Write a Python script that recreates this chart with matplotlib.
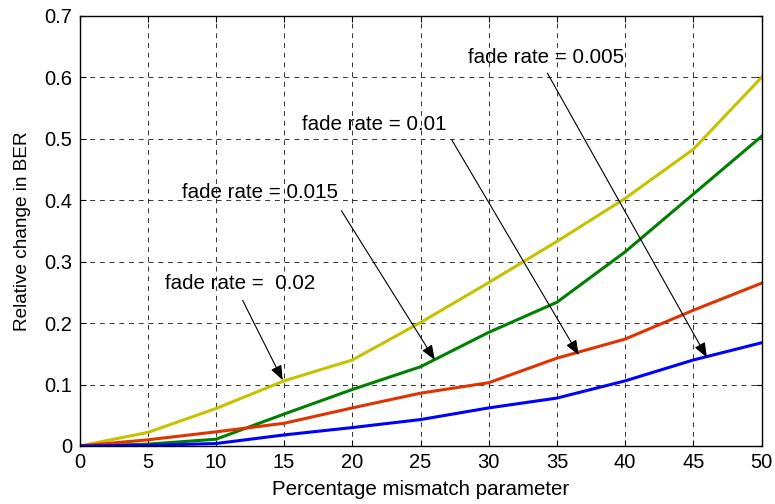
import matplotlib
matplotlib.use("Agg")
import matplotlib.pyplot as plt

x = [0, 5, 10, 15, 20, 25, 30, 35, 40, 45, 50]
ber_002 = [0, 0.022, 0.061, 0.106, 0.140, 0.201, 0.266, 0.333, 0.403, 0.483, 0.600]
ber_0015 = [0, 0.003, 0.011, 0.052, 0.092, 0.129, 0.185, 0.234, 0.316, 0.410, 0.504]
ber_001 = [0, 0.010, 0.023, 0.037, 0.062, 0.086, 0.103, 0.143, 0.174, 0.221, 0.265]
ber_0005 = [0, 0.001, 0.004, 0.018, 0.030, 0.043, 0.062, 0.078, 0.106, 0.140, 0.168]

labels = ["fade rate = 0.005", "fade rate = 0.01", "fade rate = 0.015", "fade rate =  0.02"]
label_xy = [(28.5, 0.633), (16.3, 0.523), (7.5, 0.412), (6.3, 0.265)]
arrow_start = [(34.3, 0.607), (27.3, 0.498), (19.2, 0.383), (11.96, 0.237)]
arrow_tip = [(46.0, 0.144), (36.6, 0.148), (26.05, 0.140), (14.9, 0.107)]

plt.rcParams['font.family'] = ['Liberation Sans', 'DejaVu Sans']

fig = plt.figure(figsize=(7.75, 5.04), dpi=100)
ax = fig.add_axes([0.1026, 0.1151, 0.88, 0.8532])

ax.plot(x, ber_002, color=(0.78, 0.76, 0.0), lw=2.2)
ax.plot(x, ber_0015, color=(0.0, 0.5, 0.0), lw=2.2)
ax.plot(x, ber_001, color=(0.88, 0.2, 0.0), lw=2.2)
ax.plot(x, ber_0005, color=(0.0, 0.0, 1.0), lw=2.2)

ax.set_xlim(0, 50)
ax.set_ylim(0, 0.7)
ax.set_xticks(range(0, 51, 5))
ax.set_yticks([0, 0.1, 0.2, 0.3, 0.4, 0.5, 0.6, 0.7])
ax.set_yticklabels(["0", "0.1", "0.2", "0.3", "0.4", "0.5", "0.6", "0.7"])
ax.grid(True, color='black', linestyle=(0, (5, 5)), linewidth=0.7, alpha=0.8)
ax.tick_params(direction='in', top=True, right=True, labelsize=14.5, length=4)
ax.tick_params(axis='x', pad=5)
ax.tick_params(axis='y', pad=5)
for s in ax.spines.values():
    s.set_linewidth(1.0)

ax.set_xlabel("Percentage mismatch parameter", fontsize=14.8, labelpad=6)
ax.set_ylabel("Relative change in BER", fontsize=13.7, labelpad=10)

for lab, (tx, ty), (sx, sy), (ex, ey) in zip(labels, label_xy, arrow_start, arrow_tip):
    ax.text(tx, ty, lab, fontsize=14.8, ha='left', va='center')
    ax.annotate("", xy=(ex, ey), xytext=(sx, sy),
                arrowprops=dict(arrowstyle='-|>,head_length=0.9,head_width=0.35',
                                color='black', lw=0.8, shrinkA=0, shrinkB=0,
                                mutation_scale=10))

fig.savefig("out.png", dpi=100)
